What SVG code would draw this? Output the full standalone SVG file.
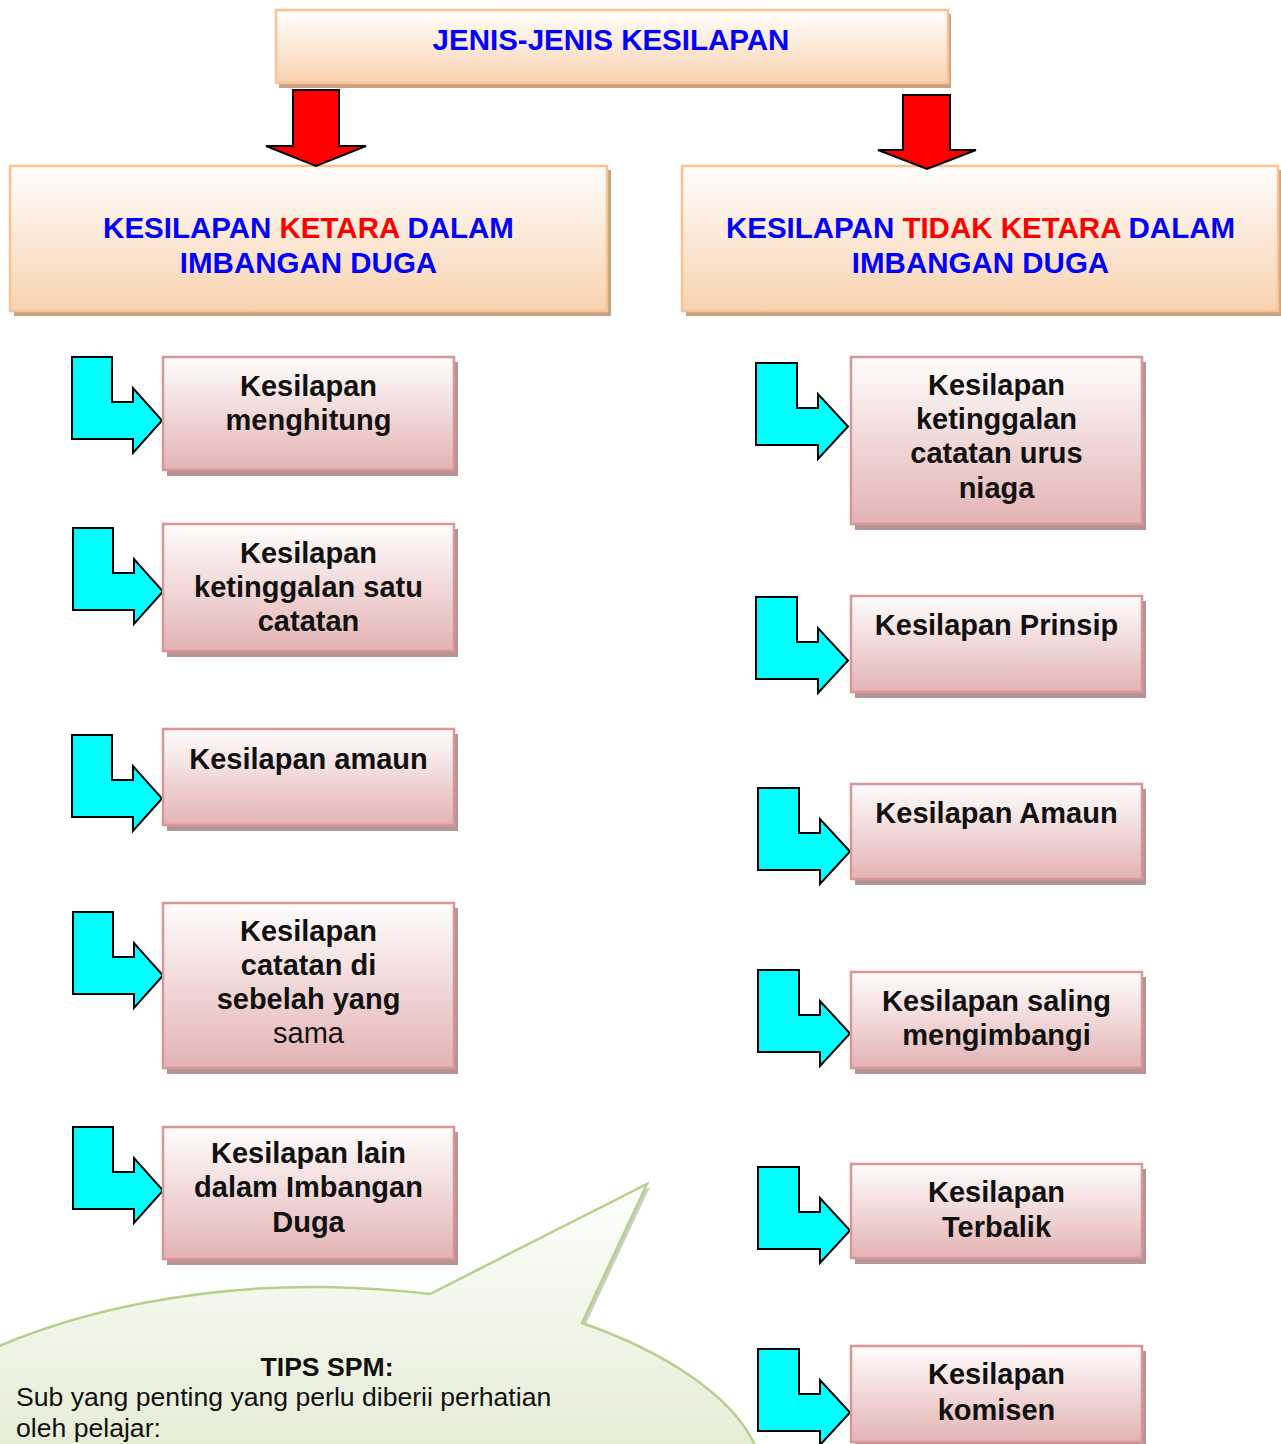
<svg xmlns="http://www.w3.org/2000/svg" width="1281" height="1444" viewBox="0 0 1281 1444">
<defs>
<linearGradient id="gOr" x1="0" y1="0" x2="0" y2="1">
<stop offset="0" stop-color="#fffefd"/>
<stop offset="1" stop-color="#f9d2b0"/>
</linearGradient>
<linearGradient id="gPk" x1="0" y1="0" x2="0" y2="1">
<stop offset="0" stop-color="#fffdfd"/>
<stop offset="1" stop-color="#e4b3b3"/>
</linearGradient>
<linearGradient id="gGr" x1="0" y1="0" x2="0" y2="1">
<stop offset="0" stop-color="#fdfefb"/>
<stop offset="1" stop-color="#e6edd6"/>
</linearGradient>
<path id="cyL" d="M0,0 H40 V45 H61 V31 L90,63.5 L61,96 V82 H0 Z"/>
<path id="cyR" d="M0,0 H41 V45 H62 V31 L92,63.5 L62,96 V82 H0 Z"/>
</defs>
<style>
.orS{fill:#c9a283}
.or{fill:url(#gOr);stroke:#f9c294;stroke-width:2.5}
.pkS{fill:#b39596}
.pk{fill:url(#gPk);stroke:#d99597;stroke-width:2.5}
.hd{font-family:"Liberation Sans",Arial,sans-serif;font-weight:bold;font-size:29.5px;text-anchor:middle;fill:#0000ff}
.rd{fill:#ff0000}
.tx{font-family:"Liberation Sans",Arial,sans-serif;font-weight:bold;font-size:29px;text-anchor:middle;fill:#111111}
.nb{font-weight:normal}
.cy{fill:#00ffff;stroke:#000;stroke-width:2}
.ra{fill:#ff0000;stroke:#000;stroke-width:2}
.bt{font-family:"Liberation Sans",Arial,sans-serif;font-size:26.6px;fill:#111111}
</style>
<rect width="1281" height="1444" fill="#ffffff"/>

<g id="title">
<rect class="orS" x="279" y="14" width="672" height="74"/>
<rect class="or" x="276" y="10" width="672" height="73"/>
<text class="hd" x="611" y="50">JENIS-JENIS KESILAPAN</text>
</g>

<g id="ketara">
<rect class="orS" x="14" y="170" width="597" height="146"/>
<rect class="or" x="10" y="166" width="597" height="145"/>
<text class="hd" x="308.5" y="238">KESILAPAN <tspan class="rd">KETARA</tspan> DALAM</text>
<text class="hd" x="308.5" y="273">IMBANGAN DUGA</text>
</g>

<g id="tidak-ketara">
<rect class="orS" x="686" y="170" width="597" height="146"/>
<rect class="or" x="682" y="166" width="596" height="145"/>
<text class="hd" x="980.5" y="238">KESILAPAN <tspan class="rd">TIDAK KETARA</tspan> DALAM</text>
<text class="hd" x="980.5" y="273">IMBANGAN DUGA</text>
</g>

<g id="tips">
<path d="M-10,1353 C80,1313 200,1288 330,1290 C370,1291 400,1293 433,1297 L650,1187 L585,1326 C663,1353 738,1398 760,1453 L-10,1453 Z" fill="#9ea88e" opacity="0.55"/>
<path d="M-10,1350 C80,1310 200,1285 327,1287 C367,1288 397,1290 430,1294 L647,1184 L582,1323 C660,1350 735,1395 757,1450 L-10,1450 Z" fill="url(#gGr)" stroke="#b7cf8d" stroke-width="2.5"/>
<text class="bt" x="327" y="1376" text-anchor="middle" font-weight="bold">TIPS SPM:</text>
<text class="bt" x="16" y="1406">Sub yang penting yang perlu diberii perhatian</text>
<text class="bt" x="16" y="1437">oleh pelajar:</text>
</g>

<g id="connectors">
<path class="ra" d="M293,90 H339 V146 H366 L316,166 L266,146 H293 Z"/>
<path class="ra" d="M903,95 H950 V150 H976 L927,169 L878,150 H903 Z"/>
<use href="#cyL" class="cy" x="72" y="357"/>
<use href="#cyL" class="cy" x="73" y="528"/>
<use href="#cyL" class="cy" x="72" y="735"/>
<use href="#cyL" class="cy" x="73" y="912"/>
<use href="#cyL" class="cy" x="73" y="1127"/>
<use href="#cyR" class="cy" x="756" y="363"/>
<use href="#cyR" class="cy" x="756" y="597"/>
<use href="#cyR" class="cy" x="758" y="788"/>
<use href="#cyR" class="cy" x="758" y="970"/>
<use href="#cyR" class="cy" x="758" y="1167"/>
<use href="#cyR" class="cy" x="758" y="1349"/>
</g>

<g id="menghitung">
<rect class="pkS" x="167" y="362" width="291" height="114"/>
<rect class="pk" x="163" y="357" width="291" height="113"/>
<text class="tx" x="308.5" y="396">Kesilapan</text>
<text class="tx" x="308.5" y="430">menghitung</text>
</g>

<g id="ketinggalan-satu">
<rect class="pkS" x="167" y="529" width="291" height="128"/>
<rect class="pk" x="163" y="524" width="291" height="127"/>
<text class="tx" x="308.5" y="563">Kesilapan</text>
<text class="tx" x="308.5" y="597">ketinggalan satu</text>
<text class="tx" x="308.5" y="631">catatan</text>
</g>

<g id="amaun">
<rect class="pkS" x="167" y="734" width="291" height="97"/>
<rect class="pk" x="163" y="729" width="291" height="96"/>
<text class="tx" x="308.5" y="769">Kesilapan amaun</text>
</g>

<g id="sebelah-sama">
<rect class="pkS" x="167" y="908" width="291" height="166"/>
<rect class="pk" x="163" y="903" width="291" height="165"/>
<text class="tx" x="308.5" y="941">Kesilapan</text>
<text class="tx" x="308.5" y="975">catatan di</text>
<text class="tx" x="308.5" y="1009">sebelah yang</text>
<text class="tx nb" x="308.5" y="1043">sama</text>
</g>

<g id="lain">
<rect class="pkS" x="167" y="1132" width="291" height="133"/>
<rect class="pk" x="163" y="1127" width="291" height="132"/>
<text class="tx" x="308.5" y="1163">Kesilapan lain</text>
<text class="tx" x="308.5" y="1197">dalam Imbangan</text>
<text class="tx" x="308.5" y="1232">Duga</text>
</g>

<g id="ketinggalan-urus-niaga">
<rect class="pkS" x="855" y="362" width="291" height="168"/>
<rect class="pk" x="851" y="357" width="291" height="167"/>
<text class="tx" x="996.5" y="395">Kesilapan</text>
<text class="tx" x="996.5" y="429">ketinggalan</text>
<text class="tx" x="996.5" y="463">catatan urus</text>
<text class="tx" x="996.5" y="498">niaga</text>
</g>

<g id="prinsip">
<rect class="pkS" x="855" y="601" width="291" height="97"/>
<rect class="pk" x="851" y="596" width="291" height="96"/>
<text class="tx" x="996.5" y="635">Kesilapan Prinsip</text>
</g>

<g id="amaun-r">
<rect class="pkS" x="855" y="789" width="291" height="96"/>
<rect class="pk" x="851" y="784" width="291" height="95"/>
<text class="tx" x="996.5" y="823">Kesilapan Amaun</text>
</g>

<g id="saling">
<rect class="pkS" x="855" y="977" width="291" height="97"/>
<rect class="pk" x="851" y="972" width="291" height="96"/>
<text class="tx" x="996.5" y="1011">Kesilapan saling</text>
<text class="tx" x="996.5" y="1045">mengimbangi</text>
</g>

<g id="terbalik">
<rect class="pkS" x="855" y="1169" width="291" height="95"/>
<rect class="pk" x="851" y="1164" width="291" height="94"/>
<text class="tx" x="996.5" y="1202">Kesilapan</text>
<text class="tx" x="996.5" y="1237">Terbalik</text>
</g>

<g id="komisen">
<rect class="pkS" x="855" y="1351" width="291" height="97"/>
<rect class="pk" x="851" y="1346" width="291" height="96"/>
<text class="tx" x="996.5" y="1384">Kesilapan</text>
<text class="tx" x="996.5" y="1420">komisen</text>
</g>
</svg>
